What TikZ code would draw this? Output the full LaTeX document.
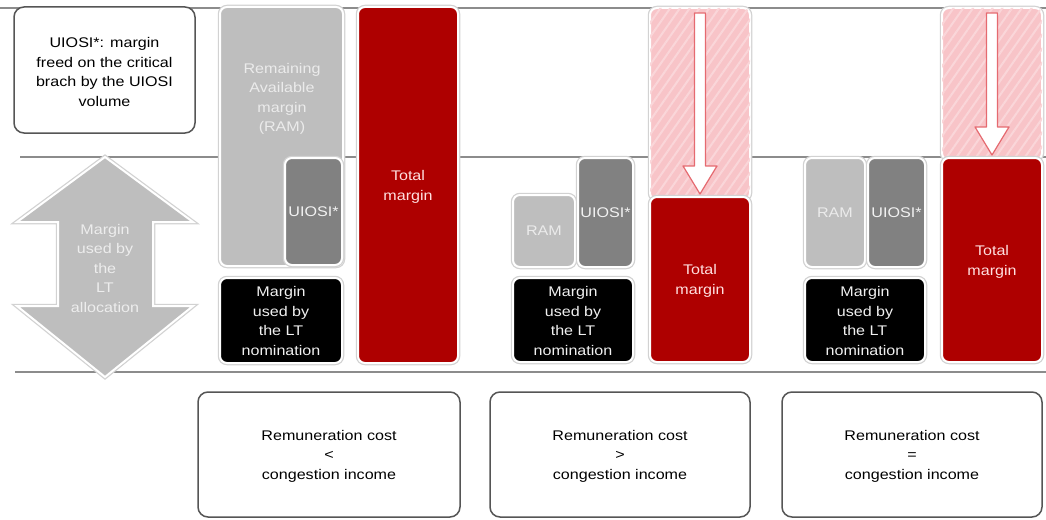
\documentclass[tikz,border=0pt]{standalone}
\usepackage{fontspec}
\setmainfont{Liberation Sans}[FakeStretch=1.15]
\usetikzlibrary{calc,patterns.meta}
\definecolor{rulegray}{HTML}{8C8C8C}
\definecolor{ramgray}{HTML}{BEBEBE}
\definecolor{uiosigray}{HTML}{818181}
\definecolor{darkred}{HTML}{AE0000}
\definecolor{pinkbg}{HTML}{F8C4C8}
\definecolor{pinkln}{HTML}{FAD6D9}
\definecolor{pinkedge}{HTML}{F0A8AC}
\definecolor{arrowedge}{HTML}{E56A70}
\definecolor{boxedge}{HTML}{555555}
\definecolor{ringgray}{HTML}{D2D2D2}
\begin{document}
\begin{tikzpicture}[x=1pt,y=-1pt,
  rule/.style={draw=rulegray, line width=1.8pt},
  box/.style={rectangle, rounded corners=7pt, draw=white, line width=2pt, inner sep=0pt,
    preaction={draw=ringgray, line width=4.5pt}},
  framebox/.style={rectangle, rounded corners=10pt, draw=boxedge, line width=1.5pt, fill=white, inner sep=0pt},
  txt/.style={align=center, inner sep=0pt, font=\fontsize{14}{19.5}\selectfont},
  hatchbox/.style={rectangle, rounded corners=7pt, fill=pinkbg, draw=white, line width=2pt, inner sep=0pt,
    preaction={draw=ringgray, line width=4.5pt},
    postaction={pattern={Lines[angle=55,distance=8pt,line width=2pt]}, pattern color=pinkln}},
  downarrow/.style={fill=white, draw=arrowedge, line width=1.2pt, line join=round},
  bigdouble/.style={fill=ramgray, draw=white, line width=2pt, line join=miter,
    preaction={draw=ringgray, line width=4.5pt}}
]
\useasboundingbox (0,0) rectangle (1046,519);

% horizontal rules
\draw[rule] (0,8) -- (1046,8);
\draw[rule] (20,157) -- (1046,157);
\draw[rule] (15,372) -- (1046,372);

% legend box
\node[framebox, minimum width=181pt, minimum height=126pt] (legend) at (104.5,70) {};
\node[txt, text=black] (legendt) at (104.5,72) {UIOSI*: margin\\freed on the critical\\brach by the UIOSI\\volume};

% double arrow
\draw[bigdouble] (105,157) -- (193,222) -- (153,222) -- (153,306) -- (193,306) -- (105,377)
  -- (17,306) -- (58,306) -- (58,222) -- (17,222) -- cycle;
\node[txt, text=white!93!black] (ltalloc) at (105,268) {Margin\\used by\\the\\LT\\allocation};

% ---------- case 1 ----------
\node[box, fill=ramgray, minimum width=123pt, minimum height=259pt] (ram1) at (281.5,136.5) {};
\node[txt, text=white!92!black] (ram1t) at (282,99) {Remaining\\Available\\margin\\(RAM)};
\node[box, fill=uiosigray, minimum width=57pt, minimum height=107pt, text=white!95!black, font=\fontsize{14}{19.5}\selectfont] (uiosi1) at (313.5,211.5) {UIOSI*};
\node[box, fill=black, minimum width=122pt, minimum height=85pt] (lt1) at (281,320.5) {};
\node[txt, text=white!94!black] (lt1t) at (281,321) {Margin\\used by\\the LT\\nomination};
\node[box, fill=darkred, minimum width=100pt, minimum height=356pt] (tot1) at (408,185) {};
\node[txt, text=white!88!red] (tot1t) at (408,187) {Total\\margin};

% ---------- case 2 ----------
\node[hatchbox, minimum width=100pt, minimum height=192pt] (hat2) at (700,104) {};
\node[box, fill=ramgray, minimum width=62pt, minimum height=72pt, text=white!92!black, font=\fontsize{14}{19.5}\selectfont] (ram2) at (544,231) {RAM};
\node[box, fill=uiosigray, minimum width=55pt, minimum height=109pt, text=white!95!black, font=\fontsize{14}{19.5}\selectfont] (uiosi2) at (605.5,212.5) {UIOSI*};
\node[box, fill=black, minimum width=120pt, minimum height=84pt] (lt2) at (573,320) {};
\node[txt, text=white!94!black] (lt2t) at (573,321) {Margin\\used by\\the LT\\nomination};
\node[box, fill=darkred, minimum width=100pt, minimum height=165pt] (tot2) at (700,279.5) {};
\node[txt, text=white!88!red] (tot2t) at (700,281) {Total\\margin};
\draw[downarrow] ($(hat2.north)+(-5.5,6)$) -- ($(tot2.north)+(-5.5,-30)$) -- ($(tot2.north)+(-17,-30)$)
  -- ($(tot2.north)+(0,-2)$) -- ($(tot2.north)+(17,-30)$) -- ($(tot2.north)+(5.5,-30)$)
  -- ($(hat2.north)+(5.5,6)$) -- cycle;

% ---------- case 3 ----------
\node[hatchbox, minimum width=100pt, minimum height=152pt] (hat3) at (992,84) {};
\node[box, fill=ramgray, minimum width=60pt, minimum height=109pt, text=white!92!black, font=\fontsize{14}{19.5}\selectfont] (ram3) at (835,212.5) {RAM};
\node[box, fill=uiosigray, minimum width=57pt, minimum height=109pt, text=white!95!black, font=\fontsize{14}{19.5}\selectfont] (uiosi3) at (896.5,212.5) {UIOSI*};
\node[box, fill=black, minimum width=120pt, minimum height=84pt] (lt3) at (865,320) {};
\node[txt, text=white!94!black] (lt3t) at (865,321) {Margin\\used by\\the LT\\nomination};
\node[box, fill=darkred, minimum width=100pt, minimum height=204pt] (tot3) at (992,260) {};
\node[txt, text=white!88!red] (tot3t) at (992,262) {Total\\margin};
\draw[downarrow] ($(hat3.north)+(-5.5,6)$) -- ($(tot3.north)+(-5.5,-30)$) -- ($(tot3.north)+(-17,-30)$)
  -- ($(tot3.north)+(0,-2)$) -- ($(tot3.north)+(17,-30)$) -- ($(tot3.north)+(5.5,-30)$)
  -- ($(hat3.north)+(5.5,6)$) -- cycle;

% ---------- bottom boxes ----------
\node[framebox, minimum width=262pt, minimum height=125pt] (cost1) at (329,454.5) {};
\node[txt] (cost1t) at (329,456) {Remuneration cost\\<\\congestion income};
\node[framebox, minimum width=260pt, minimum height=125pt] (cost2) at (620,454.5) {};
\node[txt] (cost2t) at (620,456) {Remuneration cost\\>\\congestion income};
\node[framebox, minimum width=260pt, minimum height=125pt] (cost3) at (912,454.5) {};
\node[txt] (cost3t) at (912,456) {Remuneration cost\\=\\congestion income};
\end{tikzpicture}
\end{document}
